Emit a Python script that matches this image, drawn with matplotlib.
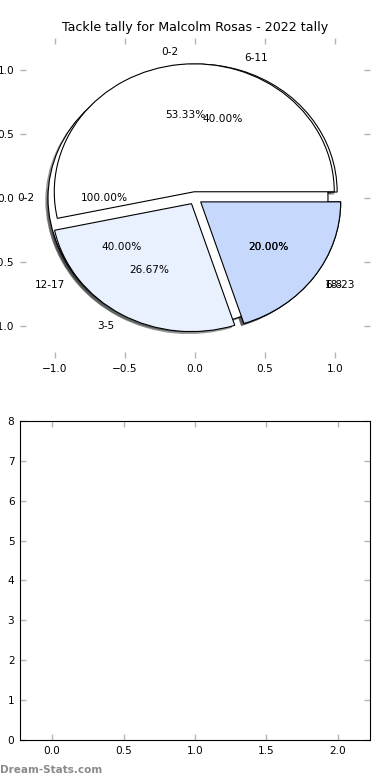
import matplotlib
matplotlib.use("Agg")
import matplotlib.pyplot as plt

# Tackle tally pies (several pies drawn on the same axes)
season_labels = ["6-11", "12-17", "18-23"]
season_values = [2, 2, 1]

total_labels = ["0-2"]
total_values = [1]

game_labels = ["0-2", "3-5", "6-8"]
game_values = [8, 4, 3]

slice_colors = ["#ffffff", "#eaf1fe", "#c6d9fc"]

# Empty bar chart below
bar_x = [0, 1, 2]
bar_heights = [0, 0, 0]

title = "Tackle tally for Malcolm Rosas - 2022 tally"
watermark = "Dream-Stats.com"

fs = 7.6
tick_grey = "#b4b4b4"

fig = plt.figure(figsize=(3.9, 7.8), dpi=100)
ax1 = fig.add_axes([0.0513, 0.541, 0.8974, 0.410])
ax2 = fig.add_axes([0.0513, 0.0513, 0.8974, 0.4090])

wedge_style = dict(edgecolor="black", linewidth=0.8)
text_style = dict(fontsize=fs)
shadow_style = dict(ox=-0.014, oy=-0.014, shade=0.8, linewidth=0)


def draw_pie(values, labels):
    ax1.pie(values, labels=labels, colors=slice_colors[:len(values)],
            explode=[0.05] * len(values), autopct="%1.2f%%",
            shadow=shadow_style, wedgeprops=wedge_style,
            textprops=text_style)


draw_pie(season_values, season_labels)
draw_pie(total_values, total_labels)
draw_pie(game_values, game_labels)

ax1.set_aspect("auto")
ax1.set_frame_on(True)
for sp in ax1.spines.values():
    sp.set_visible(False)
ax1.set_xlim(-1.25, 1.25)
ax1.set_ylim(-1.25, 1.25)
ax1.set_xticks([-1.0, -0.5, 0.0, 0.5, 1.0])
ax1.set_yticks([-1.0, -0.5, 0.0, 0.5, 1.0])
ax1.set_title(title, fontsize=fs * 1.2, pad=5)

ax2.bar(bar_x, bar_heights, width=0.45, linewidth=0)
ax2.set_xlim(-0.225, 2.225)
ax2.set_ylim(0, 8)
ax2.set_xticks([0.0, 0.5, 1.0, 1.5, 2.0])
ax2.set_yticks(range(0, 9))
for sp in ax2.spines.values():
    sp.set_linewidth(0.8)
    sp.set_color("black")

for ax in (ax1, ax2):
    ax.tick_params(direction="in", top=True, right=True, length=4, width=1,
                   color=tick_grey, labelsize=fs, pad=4)

fig.text(0.0, 0.0125, watermark, fontsize=7.5, color="#8a8a8a",
         ha="left", va="center", fontweight="bold")

fig.savefig("out.png", dpi=100)
